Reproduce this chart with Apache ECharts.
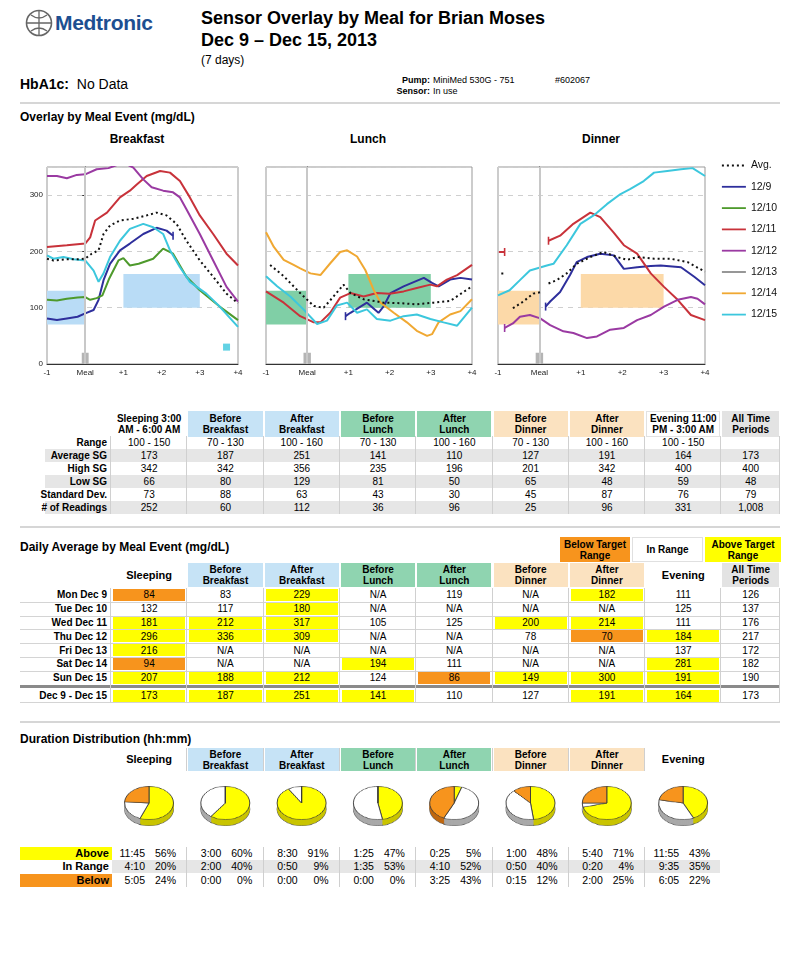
<!DOCTYPE html>
<html><head><meta charset="utf-8">
<script src="https://cdn.jsdelivr.net/npm/echarts@6/dist/echarts.min.js"></script>
<style>
body{margin:0;background:#fff;font-family:"Liberation Sans",Arial,sans-serif;color:#000;}
#page{position:relative;width:800px;height:979px;overflow:hidden;background:#fff;}
.t{position:absolute;white-space:nowrap;line-height:1;}
.cell{position:absolute;display:flex;align-items:center;justify-content:center;text-align:center;font-size:10px;line-height:11px;box-sizing:border-box;white-space:nowrap;}
.b{font-weight:bold;}
.hr{position:absolute;left:20px;width:760px;height:2px;background:#d6d6d6;}
</style></head>
<body><div id="page">
 <svg class="t" style="left:24px;top:8px" width="30" height="30" viewBox="0 0 30 30">
  <circle cx="15" cy="15" r="12.5" fill="none" stroke="#666" stroke-width="1.6"/>
  <path d="M15 2.5 V27.5 M2.5 15 H27.5 M7 7 Q15 13 23 7 M7 23 Q15 17 23 23" fill="none" stroke="#666" stroke-width="1.3"/>
 </svg>
 <div class="t" style="left:55px;top:12px;font-size:21px;font-weight:900;color:#1d4f91;letter-spacing:-0.3px">Medtronic</div>
 <div class="t b" style="left:201px;top:9px;font-size:18px">Sensor Overlay by Meal for Brian Moses</div>
 <div class="t b" style="left:201px;top:31px;font-size:18px">Dec 9 – Dec 15, 2013</div>
 <div class="t" style="left:201px;top:54px;font-size:12px">(7 days)</div>
 <div class="t" style="left:20px;top:77px;font-size:14px"><b>HbA1c:</b>&nbsp; No Data</div>
 <div class="t" style="left:386px;top:76px;font-size:9px;width:44px;text-align:right"><b>Pump:</b></div>
 <div class="t" style="left:433px;top:76px;font-size:9px">MiniMed 530G - 751</div>
 <div class="t" style="left:555px;top:76px;font-size:9px">#602067</div>
 <div class="t" style="left:386px;top:87px;font-size:9px;width:44px;text-align:right"><b>Sensor:</b></div>
 <div class="t" style="left:433px;top:87px;font-size:9px">In use</div>
 <div class="hr" style="top:102px"></div>
 <div class="t b" style="left:20px;top:111px;font-size:12px">Overlay by Meal Event (mg/dL)</div>
 <div class="t b" style="left:137px;top:133px;font-size:12px;transform:translateX(-50%)">Breakfast</div>
 <div class="t b" style="left:368px;top:133px;font-size:12px;transform:translateX(-50%)">Lunch</div>
 <div class="t b" style="left:601px;top:133px;font-size:12px;transform:translateX(-50%)">Dinner</div>
 <div id="overlay" style="position:absolute;left:0;top:130px;width:800px;height:255px"></div>
 <div class="hr" style="top:526px"></div>
 <div class="t b" style="left:20px;top:541px;font-size:12px">Daily Average by Meal Event (mg/dL)</div>
 <div class="hr" style="top:721px"></div>
 <div class="t b" style="left:20px;top:733px;font-size:12px">Duration Distribution (hh:mm)</div>
 <div id="pies" style="position:absolute;left:0;top:786px;width:800px;height:60px;transform:scaleY(0.68);transform-origin:0 0"></div>
 <div id="tables"></div>
</div>
<script>
// ---------------- DATA ----------------
const seriesNames = ['Avg.','12/9','12/10','12/11','12/12','12/13','12/14','12/15'];
const xTickLabels = {'-1':'-1','0':'Meal','1':'+1','2':'+2','3':'+3','4':'+4'};
const beforeRange = [70,130];
const afterRange = [100,160];

// Breakfast overlay (hours from meal, mg/dL)
const bfAvg = [[-1,187],[-0.83,184],[-0.5,186],[-0.2,186],[0,187],[0.17,196],[0.35,202],[0.48,231],[0.65,246],[0.91,255],[1.26,258],[1.61,264],[1.87,269],[2.13,264],[2.39,249],[2.65,219],[3.0,184],[3.35,155],[3.7,125],[4.0,108]];
const bf129 = [[-1,81],[-0.74,78],[-0.48,81],[-0.2,84],[0,90],[0.22,96],[0.35,114],[0.48,149],[0.65,178],[0.91,202],[1.17,214],[1.52,231],[1.87,242],[2.13,237],[2.3,228]];
const bf1210 = [[-1,114],[-0.74,113],[-0.48,116],[-0.2,118],[0,119],[0.13,114],[0.3,117],[0.45,122],[0.63,152],[0.87,184],[1.0,188],[1.17,175],[1.4,178],[1.78,187],[2.04,205],[2.3,196],[2.65,155],[3.0,131],[3.52,102],[4.0,78]];
const bf1211 = [[-1,208],[-0.48,211],[0,214],[0.13,225],[0.26,255],[0.57,269],[0.91,296],[1.17,308],[1.35,319],[1.61,334],[1.96,343],[2.22,340],[2.48,325],[2.74,296],[3.0,264],[3.35,231],[3.7,196],[4.0,175]];
const bf1212 = [[-1,334],[-0.74,334],[-0.48,330],[-0.22,336],[0,337],[0.3,346],[0.61,348],[0.85,354],[1.05,356],[1.26,349],[1.52,328],[1.74,314],[2.04,308],[2.3,305],[2.48,296],[2.65,275],[3.0,231],[3.35,184],[3.7,137],[4.0,111]];
const bf1215 = [[-1,193],[-0.83,187],[-0.57,190],[-0.3,186],[0,184],[0.22,166],[0.35,146],[0.48,161],[0.65,190],[0.91,219],[1.17,240],[1.52,249],[1.78,243],[2.04,231],[2.22,202],[2.48,172],[2.74,146],[3.17,125],[3.52,102],[4.0,66]];
const bf1215Point = [[3.7,30]];

// Lunch overlay
const lnAvg = [[-0.9,176],[-0.57,156],[-0.17,126],[0.16,103],[0.4,100],[0.64,120],[0.88,141],[1.05,126],[1.37,115],[1.86,109],[2.26,108],[2.66,106],[3.07,109],[3.47,112],[4.0,138]];
const ln129 = [[0.93,85],[1.05,91],[1.45,109],[1.73,91],[1.86,103],[2.02,126],[2.34,138],[2.83,153],[3.03,144],[3.19,138],[3.47,150],[3.72,153],[4.0,150]];
const ln1211 = [[-1,129],[-0.57,109],[-0.17,85],[0.16,74],[0.32,74],[0.56,91],[0.8,118],[1.05,126],[1.37,120],[1.69,126],[2.0,125],[2.34,129],[2.66,135],[2.99,141],[3.15,138],[3.39,150],[3.64,158],[4.0,176]];
const ln1214 = [[-1,234],[-0.81,208],[-0.57,185],[-0.33,176],[-0.17,170],[0.08,161],[0.32,158],[0.56,179],[0.8,199],[0.97,202],[1.21,191],[1.41,167],[1.61,132],[1.78,109],[2.1,91],[2.42,74],[2.66,59],[2.91,50],[3.03,53],[3.19,74],[3.47,88],[3.72,94],[4.0,115]];
const ln1215 = [[-1,156],[-0.73,138],[-0.41,120],[-0.09,97],[0.24,71],[0.48,77],[0.72,104],[0.97,109],[1.21,91],[1.45,97],[1.69,80],[2.02,77],[2.34,85],[2.66,88],[2.99,80],[3.31,74],[3.64,68],[4.0,100]];

// Dinner overlay
const dnAvg = [[-0.92,161],[-0.82,161],null,[-0.64,99],[-0.39,111],[-0.15,125],[0.06,128],null,[0.22,143],[0.42,149],[0.66,161],[0.9,178],[1.23,190],[1.55,199],[1.88,190],[2.12,185],[2.36,190],[2.77,187],[3.17,187],[3.58,181],[4.0,164]];
const dn129 = [[0.15,102],[0.26,111],[0.5,128],[0.74,158],[0.9,181],[1.15,190],[1.47,196],[1.8,193],[2.04,169],[2.36,172],[2.69,174],[2.93,175],[3.42,172],[3.74,155],[4.0,140]];
const dn1211 = [[-0.98,199],[-0.84,199],null,[0.22,219],[0.5,228],[0.82,249],[1.23,269],[1.47,261],[1.79,234],[2.04,211],[2.36,196],[2.69,161],[3.01,137],[3.34,114],[3.66,87],[4.0,78]];
const dn1212 = [[-0.84,64],[-0.64,72],[-0.47,84],[-0.23,87],[0.02,81],[0.26,69],[0.58,58],[0.82,55],[1.15,46],[1.39,49],[1.71,61],[2.04,64],[2.36,78],[2.69,87],[3.01,102],[3.34,114],[3.66,119],[3.82,116],[4.0,106]];
const dn1215 = [[-1,122],[-0.72,131],[-0.47,149],[-0.23,166],[0.18,175],[0.34,178],[0.66,211],[0.99,249],[1.31,264],[1.63,284],[1.96,302],[2.2,311],[2.52,325],[2.77,340],[3.09,343],[3.42,346],[3.7,348],[4.0,334]];

// Statistics table
const statHeads = [['Sleeping 3:00','AM - 6:00 AM'],['Before','Breakfast'],['After','Breakfast'],['Before','Lunch'],['After','Lunch'],['Before','Dinner'],['After','Dinner'],['Evening 11:00','PM - 3:00 AM'],['All Time','Periods']];
const statRowLabels = ['Range','Average SG','High SG','Low SG','Standard Dev.','# of Readings'];
const statRange = ['100 - 150','70 - 130','100 - 160','70 - 130','100 - 160','70 - 130','100 - 160','100 - 150',''];
const statAvg = [173,187,251,141,110,127,191,164,173];
const statHigh = [342,342,356,235,196,201,342,400,400];
const statLow = [66,80,129,81,50,65,48,59,48];
const statStd = [73,88,63,43,30,45,87,76,79];
const statReadings = ['252','60','112','36','96','25','96','331','1,008'];
const rangeLow = [100,70,100,70,100,70,100,100];
const rangeHigh = [150,130,160,130,160,130,160,150];

// Daily average table
const dailyHeads = [['Sleeping'],['Before','Breakfast'],['After','Breakfast'],['Before','Lunch'],['After','Lunch'],['Before','Dinner'],['After','Dinner'],['Evening'],['All Time','Periods']];
const dayLabels = ['Mon Dec 9','Tue Dec 10','Wed Dec 11','Thu Dec 12','Fri Dec 13','Sat Dec 14','Sun Dec 15','Dec 9 - Dec 15'];
const dayMon = [84,83,229,'N/A',119,'N/A',182,111,126];
const dayTue = [132,117,180,'N/A','N/A','N/A','N/A',125,137];
const dayWed = [181,212,317,105,125,200,214,111,176];
const dayThu = [296,336,309,'N/A','N/A',78,70,184,217];
const dayFri = [216,'N/A','N/A','N/A','N/A','N/A','N/A',137,172];
const daySat = [94,'N/A','N/A',194,111,'N/A','N/A',281,182];
const daySun = [207,188,212,124,86,149,300,191,190];
const dayAll = [173,187,251,141,110,127,191,164,173];

// Duration distribution
const durHeads = [['Sleeping'],['Before','Breakfast'],['After','Breakfast'],['Before','Lunch'],['After','Lunch'],['Before','Dinner'],['After','Dinner'],['Evening']];
const durRowLabels = ['Above','In Range','Below'];
const durAbove = ['11:45','3:00','8:30','1:25','0:25','1:00','5:40','11:55'];
const durIn = ['4:10','2:00','0:50','1:35','4:10','0:50','0:20','9:35'];
const durBelow = ['5:05','0:00','0:00','0:00','3:25','0:15','2:00','6:05'];
const pctAbove = [56,60,91,47,5,48,71,43];
const pctIn = [20,40,9,53,52,40,4,35];
const pctBelow = [24,0,0,0,43,12,25,22];

// ---------------- STYLE ----------------
const lineColors = ['#111','#2e2f9c','#4e9a2c','#c8323a','#9a3aa2','#8c8c8c','#f0a832','#3cc7dd'];
const boxColors = ['#b9dcf6','#80cfa6','#fcd9a8'];
const headBg = ['#fff','#c6e3f6','#c6e3f6','#8fd4b0','#8fd4b0','#fbe2c0','#fbe2c0','#fff','#e3e3e3'];
const YEL='#ffff00', ORG='#f7941d';

// ---------------- OVERLAY CHART ----------------
const grids = [
  {left:47, top:37, width:191, height:197},
  {left:266, top:37, width:206, height:197},
  {left:498, top:37, width:207, height:197}
];
const panels = [
  [bfAvg,bf129,bf1210,bf1211,bf1212,[],[],bf1215],
  [lnAvg,ln129,[],ln1211,[],[],ln1214,ln1215],
  [dnAvg,dn129,[],dn1211,dn1212,[],[],dn1215]
];
function withCaps(arr, cap){
  return arr.map((p,i)=>{
    if(p===null) return null;
    if(!cap) return p;
    const start = i===0 || arr[i-1]===null;
    const end = i===arr.length-1 || arr[i+1]===null;
    if((start||end) && p[0]>-0.95 && p[0]<3.99) return {value:p, symbol:'rect', symbolSize:[1.6,8]};
    return p;
  });
}
const xAxes=[], yAxes=[], series=[];
grids.forEach((g,gi)=>{
  xAxes.push({type:'value', gridIndex:gi, min:-1, max:4, interval:1,
    axisLine:{show:true, lineStyle:{color:'#333'}}, axisTick:{show:false}, splitLine:{show:false},
    axisLabel:{fontSize:8, color:'#222', margin:5, formatter:v=>xTickLabels[String(v)]}});
  yAxes.push({type:'value', gridIndex:gi, min:0, max:350, interval:100,
    axisLine:{show:true, lineStyle:{color:'#333'}}, axisTick:{show:gi===0, length:3, lineStyle:{color:'#333'}},
    splitLine:{show:true, lineStyle:{color:'#cfcfcf', type:[5,5]}},
    axisLabel:{show:gi===0, fontSize:8, color:'#222', margin:4, showMaxLabel:false}});
  series.push({type:'line', name:'range'+gi, xAxisIndex:gi, yAxisIndex:gi, data:[], silent:true, z:1,
    markArea:{silent:true, data:[
      [{xAxis:-1,yAxis:beforeRange[0],itemStyle:{color:boxColors[gi]}},{xAxis:0,yAxis:beforeRange[1]}],
      [{xAxis:1,yAxis:afterRange[0],itemStyle:{color:boxColors[gi]}},{xAxis:3,yAxis:afterRange[1]}],
      [{xAxis:-0.09,yAxis:0,itemStyle:{color:'#b4b4b4'}},{xAxis:0.09,yAxis:20}]
    ]},
    markLine:{silent:true, symbol:'none', label:{show:false}, lineStyle:{color:'#c8c8c8', width:2, type:'solid'}, data:[{xAxis:0}]}
  });
  panels[gi].forEach((d,si)=>{
    series.push({type:'line', name:seriesNames[si], xAxisIndex:gi, yAxisIndex:gi, z:3+ (si===0?5:0),
      data:withCaps(d, si!==0), symbol:'none', showSymbol:true, showAllSymbol:true, connectNulls:false,
      animation:false, clip:true, silent:true,
      itemStyle:{color:lineColors[si]},
      lineStyle:{color:lineColors[si], width:2, type:si===0?[2,3]:'solid'}});
  });
});
series.push({type:'scatter', name:'12/15', xAxisIndex:0, yAxisIndex:0, data:bf1215Point, symbol:'rect', symbolSize:7, itemStyle:{color:lineColors[7]}, silent:true, z:4});
const ov = echarts.init(document.getElementById('overlay'), null, {renderer:'canvas'});
ov.setOption({
  animation:false,
  grid:grids.map(g=>Object.assign({show:true, borderColor:'#999', borderWidth:1, backgroundColor:'#fff'}, g)),
  xAxis:xAxes, yAxis:yAxes,
  legend:{data:seriesNames, orient:'vertical', left:716, top:25, itemWidth:24, itemHeight:10, itemGap:10.3,
    selectedMode:false, textStyle:{fontSize:10.5, color:'#111'},
    itemStyle:{opacity:0, borderWidth:0}, lineStyle:{width:1.8}},
  series:series
});

// ---------------- TABLES ----------------
const T = document.getElementById('tables');
function box(x,y,w,h,html,css){
  const d=document.createElement('div'); d.className='cell';
  d.style.cssText=`left:${x}px;top:${y}px;width:${w}px;height:${h}px;`+(css||'');
  d.innerHTML=html; T.appendChild(d); return d;
}
function line(x,y,w,h,c){ box(x,y,w,h,'','background:'+c); }
const step=76.3, x0=111;
const colX = i=>x0+step*i;
const colW = i=> i===8 ? 780-colX(8) : step;

// Stats table
statHeads.forEach((h,i)=>box(colX(i)+1,411,colW(i)-2,26,h.join('<br>'),'font-weight:bold;background:'+headBg[i]+(i===7?';border:1px solid #e2e2e2':'')));
const statRows=[statRange,statAvg,statHigh,statLow,statStd,statReadings];
statRows.forEach((r,ri)=>{
  const y=436+ri*13;
  if(ri%2===1) line(45,y,735,13,'#e6e6e6');
  box(20,y,87,13,statRowLabels[ri],'justify-content:flex-end;font-weight:bold');
  r.forEach((v,i)=>box(colX(i),y,colW(i),13,String(v)));
});
for(let i=0;i<=9;i++){ const x=i<9?colX(i):780; line(Math.round(x)-1,436,1,78,'#d0d0d0'); }

// Daily table legend
box(560,537,70,25,'Below Target<br>Range','font-weight:bold;background:'+ORG);
box(632,537,71,25,'In Range','font-weight:bold;border:1px solid #e0e0e0');
box(705,537,76,25,'Above Target<br>Range','font-weight:bold;background:'+YEL);
dailyHeads.forEach((h,i)=>box(colX(i)+1,563,colW(i)-2,24,h.join('<br>'),'font-weight:bold;background:'+headBg[i]+(h.length===1?';font-size:11px':'')));
const dayRows=[dayMon,dayTue,dayWed,dayThu,dayFri,daySat,daySun,dayAll];
dayRows.forEach((r,ri)=>{
  const y = ri<7 ? 588+ri*13.8 : 688.5;
  box(20,y,87,13.8,dayLabels[ri],'justify-content:flex-end;font-weight:bold');
  r.forEach((v,i)=>{
    let bg='';
    if(i<8 && typeof v==='number'){ if(v<rangeLow[i]) bg=ORG; else if(v>rangeHigh[i]) bg=YEL; }
    if(bg) line(colX(i)+2,y+1,colW(i)-4,12,bg);
    box(colX(i),y,colW(i),13.8,String(v));
  });
  if(ri<6) line(20,Math.round(y+13.8),760,1,'#d4d4d4');
});
line(20,685,760,3,'#8a8a8a');
line(20,702,760,1,'#d4d4d4');
for(let i=0;i<=9;i++){ const x=i<9?colX(i):780; line(Math.round(x)-1,588,1,114,'#d0d0d0'); }

// Duration table
durHeads.forEach((h,i)=>box(colX(i)+1,748,colW(i)-2,23,h.join('<br>'),'font-weight:bold;background:'+headBg[i]+(h.length===1?';font-size:11px':'')));
for(let i=1;i<8;i++) line(Math.round(colX(i))-1,748,1,23,'#cfcfcf');
line(112,860,608,13.4,'#e6e6e6');
box(20,847,92,13.3,'Above&nbsp;','justify-content:flex-end;font-weight:bold;font-size:11px;background:'+YEL);
box(20,860.3,92,13.3,'In Range&nbsp;','justify-content:flex-end;font-weight:bold;font-size:11px');
box(20,873.6,92,13.3,'Below&nbsp;','justify-content:flex-end;font-weight:bold;font-size:11px;background:'+ORG);
const durRows=[[durAbove,pctAbove],[durIn,pctIn],[durBelow,pctBelow]];
durRows.forEach((r,ri)=>{
  const y=847+ri*13.3;
  r[0].forEach((t,i)=>{
    box(colX(i),y,34,13.3,t,'justify-content:flex-end;font-size:10.5px');
    box(colX(i)+34,y,31,13.3,r[1][i]+'%','justify-content:flex-end;font-size:10.5px');
  });
});
for(let i=1;i<8;i++) line(Math.round(colX(i))-1,847,1,40,'#cfcfcf');

// ---------------- PIES ----------------
const topColors=[YEL,'#ffffff',ORG];
const sideColors=['#c9c400','#a9a9a9','#c0680f'];
const pieSeries=[];
pctAbove.forEach((a,i)=>{
  const vals=[a,pctIn[i],pctBelow[i]];
  const cx=colX(i)+38;
  for(let k=9;k>=0;k--){
    const top=k===0;
    pieSeries.push({type:'pie', center:[cx,25+k], radius:24.5, startAngle:90, clockwise:true,
      silent:true, animation:false, label:{show:false}, labelLine:{show:false}, z: top?30:(20-k),
      emphasis:{disabled:true},
      data:vals.map((v,j)=>({value:v, name:durRowLabels[j],
        itemStyle:{color: top?topColors[j]:sideColors[j], borderColor: top?'#3a3a3a':'#555', borderWidth: (top||k===9)?0.9:0}}))});
  }
});
const pc = echarts.init(document.getElementById('pies'));
pc.setOption({animation:false, series:pieSeries});
</script>
</body></html>
